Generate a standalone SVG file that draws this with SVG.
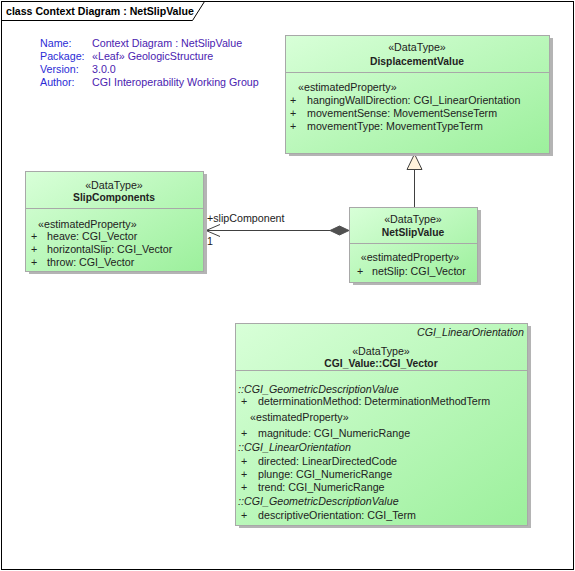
<svg xmlns="http://www.w3.org/2000/svg" width="575" height="571" viewBox="0 0 575 571">
<defs>
<linearGradient id="g" x1="0" y1="0" x2="1" y2="1">
<stop offset="0" stop-color="#d8ffd8"/>
<stop offset="1" stop-color="#9cf09c"/>
</linearGradient>
<marker id="open" markerWidth="16" markerHeight="14" refX="1" refY="7" orient="auto" markerUnits="userSpaceOnUse">
<path d="M15,1 L1,7 L15,13" fill="none" stroke="#404040" stroke-width="1"/>
</marker>
</defs>
<style>
text{font-family:"Liberation Sans",Arial,sans-serif;font-size:10.7px;fill:#222}
.b{font-weight:bold;font-size:10.3px}
.i{font-style:italic}
.m{text-anchor:middle}
.r{text-anchor:end}
.box{fill:url(#g);stroke:#a8a8a8;stroke-width:1}
.sh{fill:#b4b4b4}
.div{stroke:#a8a8a8;stroke-width:1}
.lbl{fill:#2b2bd6}
.val{fill:#4a22b0}
.ln{stroke:#404040;stroke-width:1;fill:none}
</style>
<rect x="0" y="0" width="575" height="571" fill="#fff"/>
<rect x="1.5" y="1.5" width="572" height="568" fill="none" stroke="#000"/>
<path d="M1.5,20.5 H192.5 L204.5,1.5" fill="none" stroke="#000"/>
<text x="6" y="15" class="b" style="font-size:10.6px;fill:#000">class Context Diagram : NetSlipValue</text>

<g id="note">
<text x="40" y="47" class="lbl">Name:</text>
<text x="92" y="47" class="val">Context Diagram : NetSlipValue</text>
<text x="40" y="60" class="lbl">Package:</text>
<text x="92" y="60" class="val">«Leaf» GeologicStructure</text>
<text x="40" y="73" class="lbl">Version:</text>
<text x="92" y="73" class="val">3.0.0</text>
<text x="40" y="86" class="lbl">Author:</text>
<text x="92" y="86" class="val">CGI Interoperability Working Group</text>
</g>

<g id="connectors">
<line x1="414.5" y1="207" x2="414.5" y2="169" class="ln"/>
<path d="M414.5,154 L407,169.5 L422,169.5 Z" fill="#fff2dc" stroke="#404040"/>
<line x1="206" y1="230.5" x2="330" y2="230.5" class="ln" marker-start="url(#open)"/>
<path d="M330,230.5 L339.5,226 L349,230.5 L339.5,235 Z" fill="#505050" stroke="#505050"/>
<text x="207" y="222">+slipComponent</text>
<text x="207" y="245">1</text>
</g>

<g id="DisplacementValue">
<rect x="289" y="38" width="264" height="118" class="sh"/>
<rect x="285.5" y="35.5" width="264" height="118" class="box"/>
<line x1="285.5" y1="72.5" x2="549.5" y2="72.5" class="div"/>
<text x="417" y="51" class="m">«DataType»</text>
<text x="417" y="65" class="m b">DisplacementValue</text>
<text x="298" y="91">«estimatedProperty»</text>
<text x="290" y="104">+</text><text x="307" y="104">hangingWallDirection: CGI_LinearOrientation</text>
<text x="290" y="117">+</text><text x="307" y="117">movementSense: MovementSenseTerm</text>
<text x="290" y="130">+</text><text x="307" y="130">movementType: MovementTypeTerm</text>
</g>

<g id="SlipComponents">
<rect x="29" y="174" width="178" height="100" class="sh"/>
<rect x="25.5" y="171.5" width="178" height="100" class="box"/>
<line x1="25.5" y1="208.5" x2="203.5" y2="208.5" class="div"/>
<text x="114" y="189" class="m">«DataType»</text>
<text x="114" y="201" class="m b">SlipComponents</text>
<text x="38" y="228">«estimatedProperty»</text>
<text x="31" y="240">+</text><text x="47" y="240">heave: CGI_Vector</text>
<text x="31" y="253">+</text><text x="47" y="253">horizontalSlip: CGI_Vector</text>
<text x="31" y="266">+</text><text x="47" y="266">throw: CGI_Vector</text>
</g>

<g id="NetSlipValue">
<rect x="353" y="210" width="128" height="75" class="sh"/>
<rect x="349.5" y="207.5" width="128" height="75" class="box"/>
<line x1="349.5" y1="243.5" x2="477.5" y2="243.5" class="div"/>
<text x="413" y="223" class="m">«DataType»</text>
<text x="413" y="236" class="m b">NetSlipValue</text>
<text x="410" y="261" class="m">«estimatedProperty»</text>
<text x="357" y="275">+</text><text x="372" y="275">netSlip: CGI_Vector</text>
</g>

<g id="CGI_Vector">
<rect x="239" y="326" width="292" height="202" class="sh"/>
<rect x="235.5" y="323.5" width="292" height="202" class="box"/>
<line x1="235.5" y1="370.5" x2="527.5" y2="370.5" class="div"/>
<text x="524" y="336" class="r i">CGI_LinearOrientation</text>
<text x="381" y="355" class="m">«DataType»</text>
<text x="381" y="367" class="m b">CGI_Value::CGI_Vector</text>
<text x="238" y="393" class="i">::CGI_GeometricDescriptionValue</text>
<text x="241" y="405">+</text><text x="258" y="405">determinationMethod: DeterminationMethodTerm</text>
<text x="250" y="421">«estimatedProperty»</text>
<text x="241" y="437">+</text><text x="258" y="437">magnitude: CGI_NumericRange</text>
<text x="238" y="451" class="i">::CGI_LinearOrientation</text>
<text x="241" y="465">+</text><text x="258" y="465">directed: LinearDirectedCode</text>
<text x="241" y="478">+</text><text x="258" y="478">plunge: CGI_NumericRange</text>
<text x="241" y="491">+</text><text x="258" y="491">trend: CGI_NumericRange</text>
<text x="238" y="505" class="i">::CGI_GeometricDescriptionValue</text>
<text x="241" y="519">+</text><text x="258" y="519">descriptiveOrientation: CGI_Term</text>
</g>
</svg>
